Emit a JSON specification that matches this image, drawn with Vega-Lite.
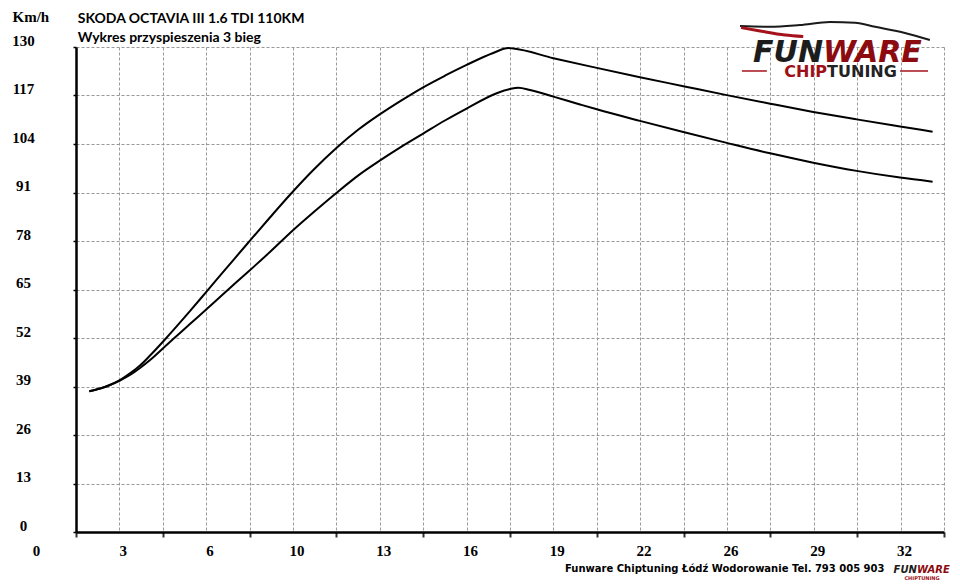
{
  "$schema": "https://vega.github.io/schema/vega-lite/v6.json",
  "width": 868,
  "height": 485,
  "autosize": "none",
  "padding": {"left": 76, "top": 47, "right": 16, "bottom": 54},
  "background": "white",
  "title": {
    "text": "SKODA OCTAVIA III 1.6 TDI 110KM",
    "subtitle": "Wykres przyspieszenia 3 bieg",
    "anchor": "start",
    "dx": 66,
    "dy": 39,
    "offset": 3,
    "font": "Lato",
    "fontSize": 14,
    "fontWeight": "bold",
    "color": "black",
    "subtitleFont": "Lato",
    "subtitleFontSize": 14,
    "subtitleFontWeight": "bold",
    "subtitleColor": "black",
    "subtitlePadding": 5
  },
  "datasets": {
    "curves": [
      {"series": "tuned", "t": 0.49, "v": 37.71},
      {"series": "tuned", "t": 0.89, "v": 38.46},
      {"series": "tuned", "t": 1.25, "v": 39.4},
      {"series": "tuned", "t": 1.62, "v": 40.74},
      {"series": "tuned", "t": 1.99, "v": 42.54},
      {"series": "tuned", "t": 2.36, "v": 44.63},
      {"series": "tuned", "t": 2.73, "v": 47.3},
      {"series": "tuned", "t": 3.28, "v": 51.6},
      {"series": "tuned", "t": 3.71, "v": 55.1},
      {"series": "tuned", "t": 4.2, "v": 59.2},
      {"series": "tuned", "t": 4.82, "v": 64.5},
      {"series": "tuned", "t": 5.31, "v": 68.7},
      {"series": "tuned", "t": 5.8, "v": 72.9},
      {"series": "tuned", "t": 6.39, "v": 77.9},
      {"series": "tuned", "t": 7.15, "v": 84.3},
      {"series": "tuned", "t": 7.89, "v": 90.4},
      {"series": "tuned", "t": 8.73, "v": 96.9},
      {"series": "tuned", "t": 9.61, "v": 103.0},
      {"series": "tuned", "t": 10.4, "v": 107.8},
      {"series": "tuned", "t": 11.21, "v": 112.0},
      {"series": "tuned", "t": 12.0, "v": 115.7},
      {"series": "tuned", "t": 12.8, "v": 119.2},
      {"series": "tuned", "t": 13.6, "v": 122.3},
      {"series": "tuned", "t": 14.4, "v": 125.2},
      {"series": "tuned", "t": 15.38, "v": 128.4},
      {"series": "tuned", "t": 15.94, "v": 129.7},
      {"series": "tuned", "t": 16.12, "v": 129.6},
      {"series": "tuned", "t": 17.6, "v": 127.0},
      {"series": "tuned", "t": 19.2, "v": 124.4},
      {"series": "tuned", "t": 20.79, "v": 121.9},
      {"series": "tuned", "t": 22.39, "v": 119.5},
      {"series": "tuned", "t": 23.99, "v": 117.1},
      {"series": "tuned", "t": 25.59, "v": 114.8},
      {"series": "tuned", "t": 27.18, "v": 112.6},
      {"series": "tuned", "t": 28.78, "v": 110.6},
      {"series": "tuned", "t": 30.38, "v": 108.7},
      {"series": "tuned", "t": 31.58, "v": 107.3},
      {"series": "stock", "t": 0.49, "v": 37.71},
      {"series": "stock", "t": 0.89, "v": 38.46},
      {"series": "stock", "t": 1.25, "v": 39.4},
      {"series": "stock", "t": 1.62, "v": 40.61},
      {"series": "stock", "t": 1.99, "v": 42.08},
      {"series": "stock", "t": 2.36, "v": 43.96},
      {"series": "stock", "t": 2.73, "v": 46.1},
      {"series": "stock", "t": 3.28, "v": 49.72},
      {"series": "stock", "t": 3.71, "v": 52.54},
      {"series": "stock", "t": 4.2, "v": 55.75},
      {"series": "stock", "t": 4.82, "v": 59.77},
      {"series": "stock", "t": 5.43, "v": 63.79},
      {"series": "stock", "t": 5.92, "v": 67.01},
      {"series": "stock", "t": 6.42, "v": 70.23},
      {"series": "stock", "t": 7.15, "v": 75.05},
      {"series": "stock", "t": 8.01, "v": 80.95},
      {"series": "stock", "t": 8.81, "v": 86.04},
      {"series": "stock", "t": 9.61, "v": 90.95},
      {"series": "stock", "t": 10.41, "v": 95.6},
      {"series": "stock", "t": 11.21, "v": 99.6},
      {"series": "stock", "t": 12.0, "v": 103.3},
      {"series": "stock", "t": 12.8, "v": 106.8},
      {"series": "stock", "t": 13.6, "v": 110.3},
      {"series": "stock", "t": 14.4, "v": 113.5},
      {"series": "stock", "t": 15.51, "v": 117.59},
      {"series": "stock", "t": 16.0, "v": 118.74},
      {"series": "stock", "t": 16.31, "v": 119.09},
      {"series": "stock", "t": 16.74, "v": 118.47},
      {"series": "stock", "t": 17.6, "v": 116.7},
      {"series": "stock", "t": 18.58, "v": 114.6},
      {"series": "stock", "t": 19.2, "v": 113.3},
      {"series": "stock", "t": 20.79, "v": 110.2},
      {"series": "stock", "t": 22.39, "v": 107.2},
      {"series": "stock", "t": 23.99, "v": 104.3},
      {"series": "stock", "t": 25.59, "v": 101.5},
      {"series": "stock", "t": 27.18, "v": 99.0},
      {"series": "stock", "t": 28.78, "v": 96.8},
      {"series": "stock", "t": 30.38, "v": 95.0},
      {"series": "stock", "t": 31.58, "v": 93.9}
    ],
    "logoBlack": [
      {"t": 27.54, "v": 128.5, "label": "FUN"}
    ],
    "logoRed": [
      {"t": 27.54, "v": 128.5, "label": "WARE"}
    ],
    "chip": [
      {"t": 27.69, "v": 123.2, "label": "CHIP"}
    ],
    "tuning": [
      {"t": 27.69, "v": 123.2, "label": "TUNING"}
    ],
    "bars": [
      {"t": 24.55, "t2": 25.47, "v": 123.57},
      {"t": 30.38, "t2": 31.41, "v": 123.57}
    ],
    "roof": [
      {"t": 24.48, "v": 135.6},
      {"t": 25.59, "v": 135.4},
      {"t": 26.69, "v": 135.9},
      {"t": 27.8, "v": 136.7},
      {"t": 28.72, "v": 136.5},
      {"t": 29.46, "v": 135.4},
      {"t": 30.56, "v": 133.75},
      {"t": 31.48, "v": 131.88}
    ],
    "swoosh": [
      {"t": 24.52, "v": 135.2},
      {"t": 25.22, "v": 134.29},
      {"t": 26.14, "v": 133.22},
      {"t": 26.81, "v": 132.81}
    ],
    "smallBlack": [
      {"t": 31.0, "v": -10.3, "label": "FUN"}
    ],
    "smallRed": [
      {"t": 31.0, "v": -10.3, "label": "WARE"}
    ],
    "smallSub": [
      {"t": 31.19, "v": -12.3, "label": "CHIPTUNING"}
    ]
  },
  "layer": [
    {
      "data": {"name": "curves"},
      "mark": {"type": "line", "color": "black", "strokeWidth": 2, "interpolate": "monotone"},
      "encoding": {
        "x": {
          "field": "t",
          "type": "quantitative",
          "scale": {"domain": [0, 32], "nice": false, "zero": false},
          "axis": {
            "values": [0, 1.6, 3.2, 4.8, 6.4, 8, 9.6, 11.2, 12.8, 14.4, 16, 17.6, 19.2, 20.8, 22.4, 24, 25.6, 27.2, 28.8, 30.4, 32],
            "labelExpr": "round(datum.value / 1.6) % 2 == 0 ? format(datum.value, '.0f') : ''",
            "labelOverlap": false,
            "labelFlush": false,
            "labelBound": false,
            "labelOffset": -40,
            "labelPadding": 6,
            "labelFont": "Liberation Serif",
            "labelFontSize": 15,
            "labelFontWeight": "bold",
            "labelColor": "black",
            "grid": true,
            "gridDash": [3, 2],
            "gridColor": "#999999",
            "gridWidth": 1,
            "domainColor": "black",
            "domainWidth": 2.5,
            "tickColor": "#333333",
            "tickWidth": 2,
            "tickSize": 5,
            "tickOpacity": {"condition": {"test": "round(datum.value / 1.6) % 2 == 0", "value": 1}, "value": 0},
            "title": "Funware Chiptuning Łódź Wodorowanie Tel. 793 005 903",
            "titleFont": "DejaVu Sans",
            "titleFontSize": 10,
            "titleFontWeight": "bold",
            "titleColor": "black",
            "titleAlign": "right",
            "titleBaseline": "middle",
            "titleX": 808,
            "titleY": 36
          }
        },
        "y": {
          "field": "v",
          "type": "quantitative",
          "scale": {"domain": [0, 130], "nice": false},
          "axis": {
            "values": [0, 6.5, 13, 19.5, 26, 32.5, 39, 45.5, 52, 58.5, 65, 71.5, 78, 84.5, 91, 97.5, 104, 110.5, 117, 123.5, 130],
            "labelExpr": "datum.value % 13 == 0 ? datum.label : ''",
            "labelOverlap": false,
            "labelFlush": false,
            "labelBound": false,
            "labelAlign": "center",
            "labelBaseline": "middle",
            "labelPadding": 50,
            "labelOffset": -7,
            "labelFont": "Liberation Serif",
            "labelFontSize": 15,
            "labelFontWeight": "bold",
            "labelColor": "black",
            "grid": true,
            "gridDash": [3, 2],
            "gridColor": "#999999",
            "gridWidth": 1,
            "domainColor": "black",
            "domainWidth": 2.5,
            "tickColor": "black",
            "tickWidth": 1.5,
            "tickSize": 3,
            "tickOpacity": {"condition": {"test": "datum.value % 13 == 0", "value": 1}, "value": 0},
            "title": "Km/h",
            "titleAngle": 0,
            "titleFont": "Liberation Serif",
            "titleFontSize": 15,
            "titleFontWeight": "bold",
            "titleColor": "black",
            "titleAlign": "left",
            "titleBaseline": "middle",
            "titleX": -64,
            "titleY": -31
          }
        },
        "detail": {"field": "series"}
      }
    },
    {
      "data": {"name": "roof"},
      "mark": {"type": "line", "color": "#1a1a1a", "strokeWidth": 2, "interpolate": "monotone"},
      "encoding": {
        "x": {"field": "t", "type": "quantitative"},
        "y": {"field": "v", "type": "quantitative"}
      }
    },
    {
      "data": {"name": "swoosh"},
      "mark": {"type": "line", "color": "#a5121b", "strokeWidth": 3, "interpolate": "monotone"},
      "encoding": {
        "x": {"field": "t", "type": "quantitative"},
        "y": {"field": "v", "type": "quantitative"}
      }
    },
    {
      "data": {"name": "logoBlack"},
      "mark": {"type": "text", "align": "right", "baseline": "middle", "font": "DejaVu Sans", "fontSize": 30, "fontWeight": "bold", "fontStyle": "italic", "color": "#1c1c1c"},
      "encoding": {
        "x": {"field": "t", "type": "quantitative"},
        "y": {"field": "v", "type": "quantitative"},
        "text": {"field": "label"}
      }
    },
    {
      "data": {"name": "logoRed"},
      "mark": {"type": "text", "align": "left", "baseline": "middle", "font": "DejaVu Sans", "fontSize": 30, "fontWeight": "bold", "fontStyle": "italic", "color": "#8c0b10"},
      "encoding": {
        "x": {"field": "t", "type": "quantitative"},
        "y": {"field": "v", "type": "quantitative"},
        "text": {"field": "label"}
      }
    },
    {
      "data": {"name": "chip"},
      "mark": {"type": "text", "align": "right", "baseline": "middle", "font": "DejaVu Sans", "fontSize": 16, "fontWeight": "bold", "color": "#9e1018"},
      "encoding": {
        "x": {"field": "t", "type": "quantitative"},
        "y": {"field": "v", "type": "quantitative"},
        "text": {"field": "label"}
      }
    },
    {
      "data": {"name": "tuning"},
      "mark": {"type": "text", "align": "left", "baseline": "middle", "font": "DejaVu Sans", "fontSize": 16, "fontWeight": "bold", "color": "#222222"},
      "encoding": {
        "x": {"field": "t", "type": "quantitative"},
        "y": {"field": "v", "type": "quantitative"},
        "text": {"field": "label"}
      }
    },
    {
      "data": {"name": "bars"},
      "mark": {"type": "rule", "color": "#a5121b", "strokeWidth": 1.5},
      "encoding": {
        "x": {"field": "t", "type": "quantitative"},
        "x2": {"field": "t2"},
        "y": {"field": "v", "type": "quantitative"}
      }
    },
    {
      "data": {"name": "smallBlack"},
      "mark": {"type": "text", "align": "right", "baseline": "middle", "font": "DejaVu Sans", "fontSize": 10, "fontWeight": "bold", "fontStyle": "italic", "color": "#1c1c1c"},
      "encoding": {
        "x": {"field": "t", "type": "quantitative"},
        "y": {"field": "v", "type": "quantitative"},
        "text": {"field": "label"}
      }
    },
    {
      "data": {"name": "smallRed"},
      "mark": {"type": "text", "align": "left", "baseline": "middle", "font": "DejaVu Sans", "fontSize": 10, "fontWeight": "bold", "fontStyle": "italic", "color": "#8c0b10"},
      "encoding": {
        "x": {"field": "t", "type": "quantitative"},
        "y": {"field": "v", "type": "quantitative"},
        "text": {"field": "label"}
      }
    },
    {
      "data": {"name": "smallSub"},
      "mark": {"type": "text", "align": "center", "baseline": "middle", "font": "DejaVu Sans", "fontSize": 5, "fontWeight": "bold", "color": "#9e1018"},
      "encoding": {
        "x": {"field": "t", "type": "quantitative"},
        "y": {"field": "v", "type": "quantitative"},
        "text": {"field": "label"}
      }
    }
  ],
  "config": {
    "view": {"stroke": null}
  }
}
